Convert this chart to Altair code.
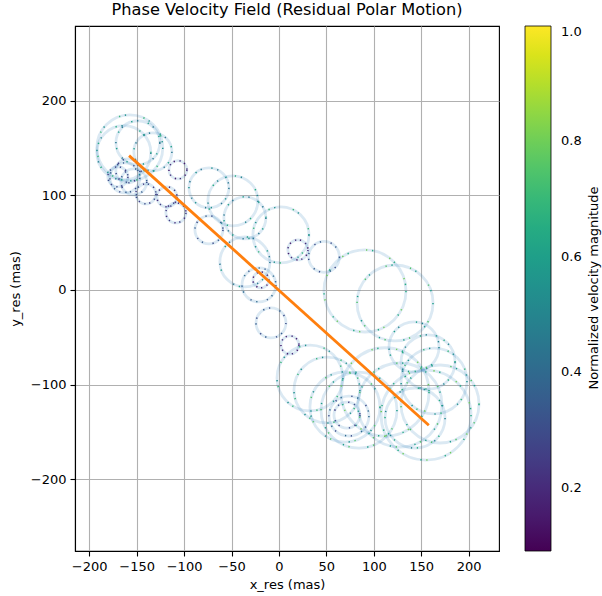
import altair as alt
import pandas as pd

# ---- values (data units: mas) ----
loop_x = [-157.2, -163.5, -148.7, -132.9, -162.4, -153.0, -169.8, -159.3, -140.3, -118.1,
          -106.5, -108.6, -73.8, -48.5, -35.9, 2.1, -73.8, -35.9, -21.1, -19.0,
          -8.4, 20.0, 47.5, 11.6, 90.7, 122.4, 32.7, 50.6, 69.6, 73.8,
          71.7, 84.4, 142.4, 157.2, 163.5, 169.8, 143.5, 155.1, 127.6, 111.8]
loop_y = [150.3, 145.0, 155.6, 146.0, 118.5, 114.3, 119.6, 125.9, 101.6, 98.4,
          127.0, 81.5, 107.9, 94.2, 76.2, 58.2, 63.5, 29.6, 5.3, 10.6,
          -34.9, 42.3, 34.9, -58.2, -1.1, -13.8, -93.1, -105.8, -123.8, -133.3,
          -132.3, -127.0, -60.3, -76.2, -96.3, -120.6, -135.4, -132.3, -121.7, -107.9]
loop_r = [34.8, 28.5, 23.2, 20.1, 15.8, 13.7, 10.6, 12.7, 10.6, 10.6,
          9.5, 10.6, 21.1, 26.4, 22.2, 29.6, 14.8, 26.4, 17.9, 8.4,
          15.8, 10.6, 16.3, 9.5, 43.3, 40.1, 34.8, 34.8, 37.0, 21.1,
          13.7, 40.1, 26.4, 28.5, 34.8, 41.2, 31.7, 47.5, 44.4, 46.5]
loop_v = [0.55, 0.5, 0.45, 0.45, 0.35, 0.3, 0.25, 0.3, 0.25, 0.25,
          0.2, 0.25, 0.45, 0.5, 0.45, 0.55, 0.3, 0.45, 0.35, 0.2,
          0.3, 0.2, 0.35, 0.2, 0.65, 0.6, 0.55, 0.55, 0.55, 0.4,
          0.3, 0.6, 0.5, 0.5, 0.55, 0.6, 0.5, 0.65, 0.6, 0.65]
loop_v2 = [0.7, 0.65, 0.6, 0.6, 0.3, 0.35, 0.3, 0.25, 0.3, 0.2,
           0.15, 0.2, 0.55, 0.65, 0.6, 0.7, 0.35, 0.6, 0.4, 0.15,
           0.35, 0.15, 0.3, 0.15, 0.8, 0.75, 0.7, 0.7, 0.75, 0.3,
           0.25, 0.75, 0.6, 0.65, 0.7, 0.75, 0.65, 0.8, 0.75, 0.8]

trend_x = [-158.0, 158.0]
trend_y = [142.0, -143.0]

x_ticks = [-200, -150, -100, -50, 0, 50, 100, 150, 200]
y_ticks = [-200, -100, 0, 100, 200]
cbar_ticks = [0.2, 0.4, 0.6, 0.8, 1.0]
cbar_domain = [0.09, 1.0]

title_text = "Phase Velocity Field (Residual Polar Motion)"
cbar_title = "Normalized velocity magnitude"

FONT = "DejaVu Sans"
PX = 0.947  # pixels per mas in the plot area

df = pd.DataFrame({"x": loop_x, "y": loop_y, "r": loop_r, "v": loop_v, "v2": loop_v2})
df["r2"] = df["r"] ** 2
df["dash"] = ["dense" if r < 12 else ("mid" if r < 25 else "sparse") for r in loop_r]
trend = pd.DataFrame({"x": trend_x, "y": trend_y})

xs = alt.Scale(domain=[-215, 232], nice=False, zero=False)
ys = alt.Scale(domain=[-276, 279], nice=False, zero=False)
xax = alt.Axis(values=x_ticks, title="x_res (mas)", format="d", titleFontWeight="normal",
               titlePadding=5)
yax = alt.Axis(values=y_ticks, title="y_res (mas)", format="d", titleFontWeight="normal",
               titlePadding=8)
X = alt.X("x:Q", scale=xs, axis=xax)
Y = alt.Y("y:Q", scale=ys, axis=yax)
size_enc = alt.Size("r2:Q", scale=alt.Scale(type="linear", domain=[0, 10000],
                                            range=[0, 4 * PX * PX * 10000]), legend=None)
dash_enc = alt.StrokeDash("dash:N", scale=alt.Scale(domain=["dense", "mid", "sparse"],
                                                    range=[[1.3, 9.7], [1.3, 15.7], [1.3, 23.7]]),
                          legend=None)
cscale = alt.Scale(scheme="viridis", domain=cbar_domain)

base = alt.Chart(df)

rings = base.mark_point(shape="circle", filled=False, stroke="#1f77b4", opacity=1,
                        strokeOpacity=0.16, strokeWidth=2.8).encode(x=X, y=Y, size=size_enc)

dots1 = base.mark_point(shape="circle", filled=False, strokeWidth=1.5, opacity=1,
                        strokeCap="butt").encode(
    x=X, y=Y, size=size_enc, strokeDash=dash_enc,
    color=alt.Color("v:Q", scale=cscale, legend=alt.Legend(
        title=None, orient="none", legendX=450, legendY=0, direction="vertical",
        gradientLength=525, gradientThickness=26, values=cbar_ticks, format=".1f",
        labelFontSize=13, labelFont=FONT, labelColor="black", labelOffset=10,
        gradientStrokeColor="black", gradientStrokeWidth=0.8, padding=0,
        gradientOpacity=1, labelOverlap=False)))

dots2 = base.mark_point(shape="circle", filled=False, strokeWidth=1.5, opacity=1,
                        strokeCap="butt", strokeDashOffset=6).encode(
    x=X, y=Y, size=size_enc, strokeDash=dash_enc,
    color=alt.Color("v2:Q", scale=cscale, legend=None))

trend_line = alt.Chart(trend).mark_line(color="#ff7f0e", strokeWidth=2.8).encode(x=X, y=Y)

cbar_label = alt.Chart(pd.DataFrame({"t": [cbar_title]})).mark_text(
    angle=270, font=FONT, fontSize=13, color="black", align="center", baseline="middle"
).encode(text="t:N", x=alt.value(519), y=alt.value(262))

chart = alt.layer(rings, dots1, dots2, trend_line, cbar_label).properties(
    width=424, height=525,
    padding={"left": 75, "top": 26, "right": 103, "bottom": 45},
    autosize=alt.AutoSizeParams(type="none"),
    background="white",
    title=alt.Title(title_text, font=FONT, fontSize=16.2, fontWeight="normal",
                    color="black", anchor="middle", offset=8),
).configure_axis(
    labelFont=FONT, labelFontSize=13, labelColor="black",
    titleFont=FONT, titleFontSize=13, titleColor="black", titleFontWeight="normal",
    grid=True, gridColor="#b0b0b0", gridWidth=1.1,
    tickColor="black", tickWidth=1.1, tickSize=5, labelPadding=4,
    domainColor="black", domainWidth=1.1,
).configure_view(
    stroke="black", strokeWidth=1.1
)

chart.save("out.html", embed_options={"renderer": "svg", "actions": False})
